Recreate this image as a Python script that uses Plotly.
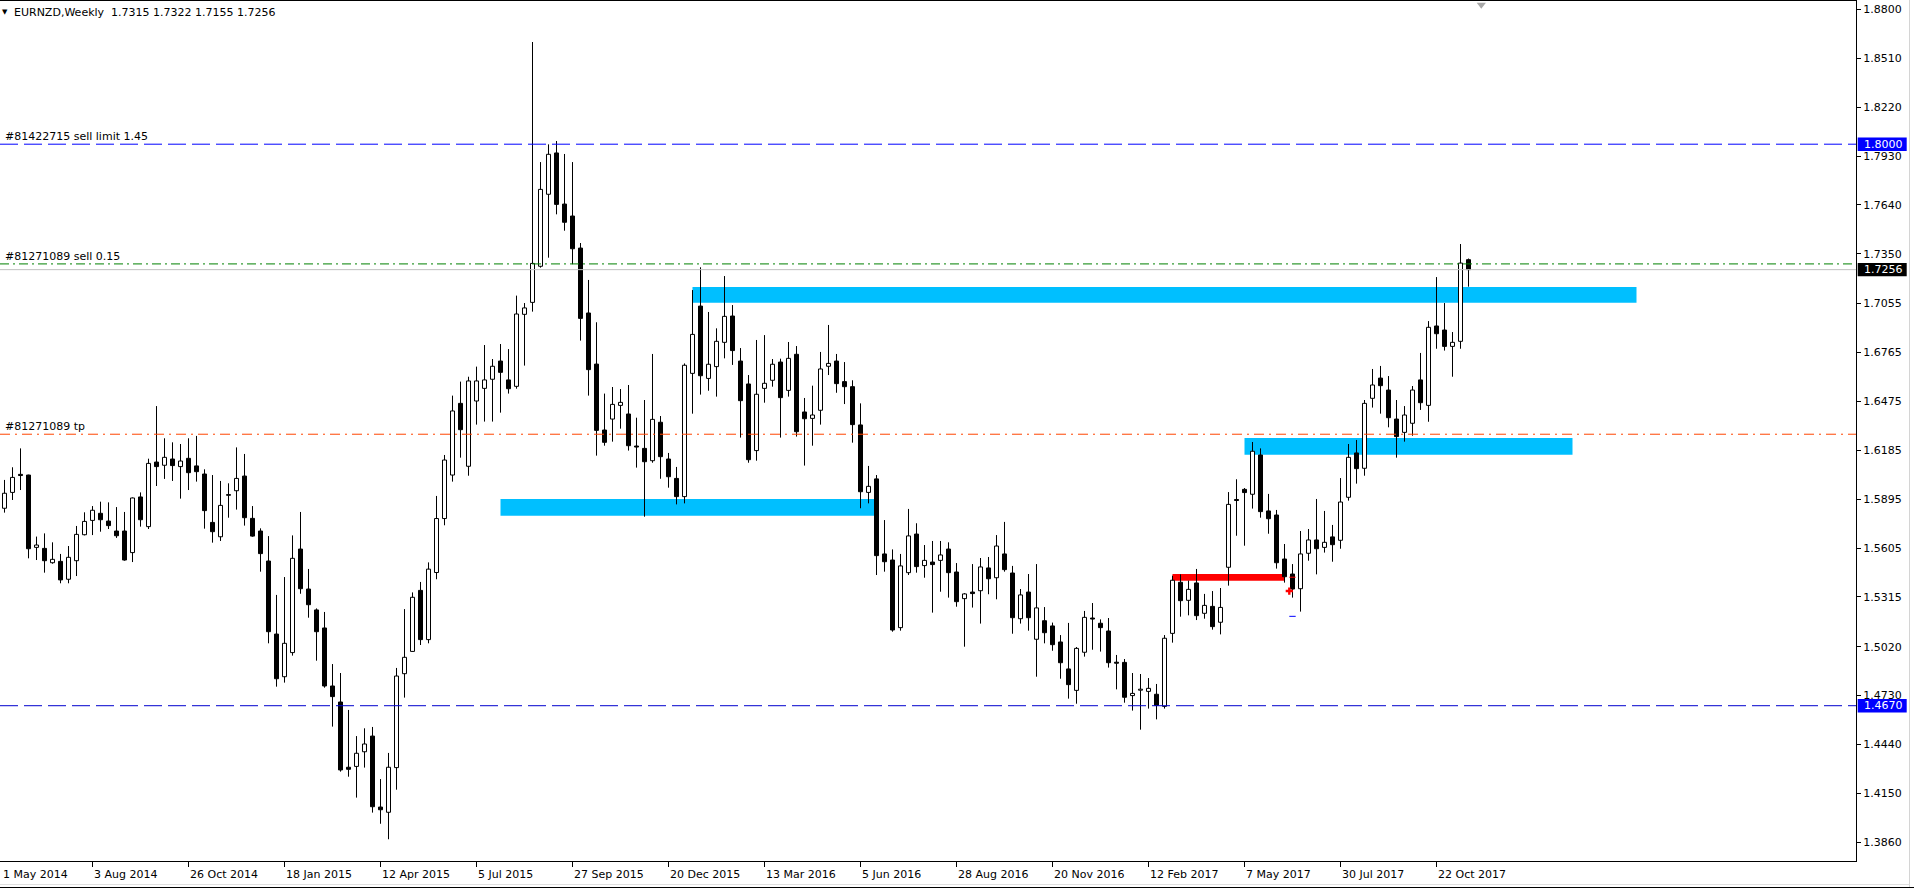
import plotly.graph_objects as go

# ---------------- data (weekly EURNZD bars, index 0 = first visible bar) ----------------
opens = [1.5841, 1.5935, 1.6042, 1.6038, 1.5609, 1.5603, 1.5518, 1.5526, 1.5420, 1.5530,
         1.5684, 1.5769, 1.5811, 1.5765, 1.5706, 1.5706, 1.5578, 1.5908, 1.5732, 1.6115,
         1.6096, 1.6133, 1.6088, 1.6137, 1.6092, 1.6044, 1.5757, 1.5672, 1.5922, 1.5945,
         1.6032, 1.5781, 1.5706, 1.5528, 1.5095, 1.4842, 1.4985, 1.5599, 1.5362, 1.5238,
         1.5131, 1.4787, 1.4692, 1.4305, 1.4310, 1.4397, 1.4490, 1.4069, 1.4038, 1.4303,
         1.4860, 1.4992, 1.5354, 1.5062, 1.5460, 1.5780, 1.6038, 1.6463, 1.6090, 1.6477,
         1.6552, 1.6606, 1.6714, 1.6602, 1.6564, 1.6991, 1.7062, 1.7276, 1.7703, 1.7948,
         1.7645, 1.7574, 1.7384, 1.6999, 1.6696, 1.6305, 1.6370, 1.6451, 1.6400, 1.6210,
         1.6196, 1.6123, 1.6351, 1.6133, 1.6018, 1.5910, 1.6641, 1.7040, 1.6611, 1.6681,
         1.6825, 1.6981, 1.6714, 1.6578, 1.6183, 1.6552, 1.6600, 1.6708, 1.6540, 1.6754,
         1.6412, 1.6374, 1.6422, 1.6683, 1.6714, 1.6592, 1.6562, 1.6335, 1.5935, 1.6015,
         1.5570, 1.5534, 1.5133, 1.5459, 1.5688, 1.5501, 1.5522, 1.5532, 1.5599, 1.5463,
         1.5305, 1.5344, 1.5352, 1.5487, 1.5429, 1.5570, 1.5457, 1.5186, 1.5344, 1.5064,
         1.5174, 1.5143, 1.5048, 1.4888, 1.4761, 1.4987, 1.5190, 1.5159, 1.5113, 1.4928,
         1.4927, 1.4730, 1.4762, 1.4755, 1.4738, 1.4666, 1.5099, 1.5402, 1.5295, 1.5398,
         1.5218, 1.5259, 1.5165, 1.5491, 1.5893, 1.5953, 1.5924, 1.6157, 1.5825, 1.5801,
         1.5540, 1.5451, 1.5364, 1.5574, 1.5653, 1.5609, 1.5671, 1.5651, 1.5906, 1.6169,
         1.6078, 1.6493, 1.6613, 1.6542, 1.6370, 1.6291, 1.6345, 1.6602, 1.6451, 1.6922,
         1.6898, 1.6801, 1.6831, 1.7315]
highs = [1.6009, 1.6084, 1.6196, 1.6040, 1.5673, 1.5692, 1.5639, 1.5570, 1.5617, 1.5736,
         1.5817, 1.5854, 1.5880, 1.5876, 1.5848, 1.5819, 1.5905, 1.5935, 1.6135, 1.6447,
         1.6256, 1.6232, 1.6222, 1.6256, 1.6270, 1.6072, 1.6038, 1.6003, 1.5989, 1.6202,
         1.6163, 1.5854, 1.5722, 1.5676, 1.5327, 1.5433, 1.5680, 1.5819, 1.5481, 1.5247,
         1.5226, 1.4917, 1.4864, 1.4645, 1.4490, 1.4536, 1.4544, 1.4235, 1.4390, 1.4894,
         1.5243, 1.5342, 1.5404, 1.5520, 1.5914, 1.6157, 1.6509, 1.6592, 1.6621, 1.6681,
         1.6809, 1.6726, 1.6815, 1.6785, 1.7102, 1.7058, 1.8606, 1.7894, 1.7999, 1.8019,
         1.7942, 1.7894, 1.7414, 1.7195, 1.6944, 1.6521, 1.6560, 1.6548, 1.6572, 1.6378,
         1.6483, 1.6756, 1.6388, 1.6169, 1.6086, 1.6700, 1.7135, 1.7270, 1.7005, 1.6908,
         1.7218, 1.7046, 1.6791, 1.6631, 1.6839, 1.6868, 1.6726, 1.6728, 1.6827, 1.6803,
         1.6495, 1.6568, 1.6768, 1.6928, 1.6756, 1.6708, 1.6600, 1.6463, 1.6092, 1.6038,
         1.5771, 1.5597, 1.5570, 1.5837, 1.5752, 1.5623, 1.5647, 1.5647, 1.5639, 1.5516,
         1.5338, 1.5510, 1.5546, 1.5552, 1.5682, 1.5760, 1.5499, 1.5362, 1.5451, 1.5510,
         1.5255, 1.5163, 1.5089, 1.5161, 1.5018, 1.5232, 1.5279, 1.5182, 1.5190, 1.4971,
         1.4947, 1.4864, 1.4858, 1.4834, 1.4799, 1.5089, 1.5441, 1.5449, 1.5412, 1.5481,
         1.5333, 1.5350, 1.5368, 1.5937, 1.6013, 1.5961, 1.6234, 1.6196, 1.5926, 1.5831,
         1.5629, 1.5510, 1.5706, 1.5718, 1.5896, 1.5825, 1.5742, 1.6020, 1.6222, 1.6246,
         1.6483, 1.6667, 1.6685, 1.6625, 1.6483, 1.6447, 1.6566, 1.6762, 1.6951, 1.7212,
         1.7058, 1.6886, 1.7408, 1.7322]
lows = [1.5815, 1.5890, 1.5949, 1.5544, 1.5534, 1.5459, 1.5512, 1.5396, 1.5396, 1.5439,
        1.5680, 1.5682, 1.5702, 1.5718, 1.5665, 1.5530, 1.5522, 1.5732, 1.5718, 1.5973,
        1.6015, 1.6003, 1.5898, 1.5949, 1.5999, 1.5720, 1.5637, 1.5647, 1.5785, 1.5833,
        1.5738, 1.5672, 1.5465, 1.5040, 1.4783, 1.4807, 1.4967, 1.5334, 1.5192, 1.4937,
        1.4777, 1.4546, 1.4279, 1.4249, 1.4125, 1.4303, 1.4036, 1.3970, 1.3878, 1.4172,
        1.4718, 1.4990, 1.5030, 1.5040, 1.5420, 1.5740, 1.5999, 1.6141, 1.6034, 1.6337,
        1.6355, 1.6355, 1.6408, 1.6521, 1.6550, 1.6687, 1.7007, 1.7268, 1.7327, 1.7584,
        1.7487, 1.7288, 1.6835, 1.6509, 1.6153, 1.6212, 1.6236, 1.6313, 1.6183, 1.6082,
        1.5791, 1.6111, 1.6016, 1.5963, 1.5864, 1.5870, 1.6402, 1.6515, 1.6538, 1.6503,
        1.6730, 1.6691, 1.6260, 1.6111, 1.6123, 1.6467, 1.6562, 1.6260, 1.6503, 1.6266,
        1.6094, 1.6212, 1.6337, 1.6631, 1.6526, 1.6459, 1.6230, 1.5841, 1.5870, 1.5445,
        1.5465, 1.5109, 1.5115, 1.5445, 1.5459, 1.5429, 1.5222, 1.5346, 1.5311, 1.5257,
        1.5020, 1.5252, 1.5157, 1.5331, 1.5301, 1.5465, 1.5097, 1.5157, 1.5115, 1.4842,
        1.5040, 1.4996, 1.4830, 1.4712, 1.4682, 1.4961, 1.5002, 1.4991, 1.4896, 1.4767,
        1.4688, 1.4641, 1.4528, 1.4653, 1.4589, 1.4653, 1.5044, 1.5198, 1.5206, 1.5178,
        1.5186, 1.5121, 1.5093, 1.5382, 1.5678, 1.5619, 1.5839, 1.5785, 1.5690, 1.5483,
        1.5400, 1.5311, 1.5228, 1.5530, 1.5449, 1.5578, 1.5524, 1.5601, 1.5886, 1.5987,
        1.6034, 1.6438, 1.6402, 1.6321, 1.6141, 1.6236, 1.6271, 1.6424, 1.6354, 1.6787,
        1.6776, 1.6621, 1.6787, 1.7155]
closes = [1.5930, 1.6024, 1.6035, 1.5601, 1.5623, 1.5530, 1.5538, 1.5416, 1.5550, 1.5686,
          1.5763, 1.5829, 1.5773, 1.5738, 1.5678, 1.5534, 1.5902, 1.5773, 1.6107, 1.6088,
          1.6143, 1.6094, 1.6121, 1.6052, 1.6058, 1.5827, 1.5702, 1.5858, 1.5918, 1.6018,
          1.5785, 1.5676, 1.5572, 1.5109, 1.4830, 1.5040, 1.5544, 1.5364, 1.5269, 1.5109,
          1.4787, 1.4724, 1.4289, 1.4293, 1.4388, 1.4443, 1.4071, 1.4053, 1.4305, 1.4846,
          1.4957, 1.5313, 1.5062, 1.5480, 1.5780, 1.6127, 1.6418, 1.6307, 1.6596, 1.6596,
          1.6602, 1.6683, 1.6647, 1.6550, 1.6993, 1.7029, 1.7293, 1.7732, 1.7940, 1.7643,
          1.7537, 1.7380, 1.6967, 1.6663, 1.6303, 1.6232, 1.6457, 1.6469, 1.6212, 1.6204,
          1.6117, 1.6368, 1.6147, 1.6028, 1.5910, 1.6689, 1.6872, 1.6627, 1.6695, 1.6831,
          1.6979, 1.6776, 1.6479, 1.6129, 1.6517, 1.6582, 1.6695, 1.6497, 1.6730, 1.6295,
          1.6372, 1.6394, 1.6667, 1.6700, 1.6580, 1.6562, 1.6337, 1.5939, 1.5971, 1.5560,
          1.5524, 1.5119, 1.5499, 1.5677, 1.5495, 1.5532, 1.5507, 1.5564, 1.5459, 1.5287,
          1.5333, 1.5335, 1.5493, 1.5423, 1.5617, 1.5477, 1.5192, 1.5327, 1.5192, 1.5250,
          1.5103, 1.5032, 1.4925, 1.4795, 1.5010, 1.5194, 1.5184, 1.5133, 1.4925, 1.4922,
          1.4720, 1.4743, 1.4768, 1.4773, 1.4672, 1.5070, 1.5414, 1.5293, 1.5360, 1.5204,
          1.5265, 1.5139, 1.5253, 1.5864, 1.5887, 1.5934, 1.6179, 1.5821, 1.5779, 1.5518,
          1.5435, 1.5362, 1.5570, 1.5653, 1.5601, 1.5639, 1.5625, 1.5878, 1.6143, 1.6076,
          1.6463, 1.6572, 1.6568, 1.6378, 1.6266, 1.6394, 1.6542, 1.6467, 1.6914, 1.6876,
          1.6801, 1.6825, 1.7295, 1.7256]

date_idx = [11, 23, 35, 47, 59, 71, 83, 95, 107, 119, 131, 143, 155, 167, 179]
date_text = ["3 Aug 2014", "26 Oct 2014", "18 Jan 2015", "12 Apr 2015", "5 Jul 2015",
             "27 Sep 2015", "20 Dec 2015", "13 Mar 2016", "5 Jun 2016", "28 Aug 2016",
             "20 Nov 2016", "12 Feb 2017", "7 May 2017", "30 Jul 2017", "22 Oct 2017"]
first_date_text = "1 May 2014"

price_ticks = [1.8800, 1.8510, 1.8220, 1.7930, 1.7640, 1.7350, 1.7055, 1.6765, 1.6475,
               1.6185, 1.5895, 1.5605, 1.5315, 1.5020, 1.4730, 1.4440, 1.4150, 1.3860]

# zones: (start bar, end bar, low, high, colour)
zones = [(86, 204, 1.7060, 1.7153, "#00BFFF"),
         (155, 196, 1.6159, 1.6258, "#00BFFF"),
         (62, 109, 1.5797, 1.5896, "#00BFFF"),
         (146, 160, 1.5411, 1.5451, "#FF0000")]

# horizontal levels: (price, colour, dash, label)
levels = [(1.8000, "#0000FF", "18px,6px", "#81422715 sell limit 1.45"),
          (1.7290, "#008000", "9px,4px,2px,4px", "#81271089 sell 0.15"),
          (1.7256, "#C0C0C0", "solid", ""),
          (1.6280, "#FF4500", "10px,5px,2px,5px", "#81271089 tp"),
          (1.4670, "#0000CD", "18px,6px", "")]
price_boxes = [(1.8000, "#0000FF"), (1.7256, "#000000"), (1.4670, "#0000FF")]

title_text = "EURNZD,Weekly\u00a0\u00a01.7315 1.7322 1.7155 1.7256"

# ---------------- geometry ----------------
W, H = 1914, 888
ML, MR, MT, MB = 0, 58, 1, 27
PW, PH = W - ML - MR, H - MT - MB
px_per_bar = 8.0
x0_px = 4.5
x_range = [(0 - x0_px) / px_per_bar, (PW - x0_px) / px_per_bar]
y_range = [1.37491, 1.88492]
FONT = "DejaVu Sans"

N = len(opens)
idx = list(range(N))

fig = go.Figure()

# wicks (upper & lower parts so that they do not cross the bodies)
wx, wy = [], []
for i in idx:
    top = max(opens[i], closes[i])
    bot = min(opens[i], closes[i])
    if highs[i] > top:
        wx += [i, i, None]
        wy += [top, highs[i], None]
    if lows[i] < bot:
        wx += [i, i, None]
        wy += [bot, lows[i], None]
fig.add_trace(go.Scatter(x=wx, y=wy, mode="lines", line=dict(color="black", width=1),
                         hoverinfo="skip", showlegend=False))

# bodies
for bull, fill in [(True, "white"), (False, "black")]:
    xs, base, hgt = [], [], []
    for i in idx:
        if (closes[i] >= opens[i]) == bull:
            xs.append(i)
            base.append(min(opens[i], closes[i]))
            hgt.append(max(abs(closes[i] - opens[i]), 0.0004))
    fig.add_trace(go.Bar(x=xs, y=hgt, base=base, width=0.5,
                         marker=dict(color=fill, line=dict(color="black", width=1)),
                         showlegend=False, hoverinfo="skip"))

# trade markers
fig.add_trace(go.Scatter(x=[160.6], y=[1.5350], mode="markers",
                         marker=dict(symbol="cross", size=6, color="#FF0000"),
                         showlegend=False, hoverinfo="skip"))
fig.add_trace(go.Scatter(x=[160.6, 161.4], y=[1.5200, 1.5200],
                         mode="lines", line=dict(color="#0000FF", width=1),
                         showlegend=False, hoverinfo="skip"))
fig.add_trace(go.Scatter(x=[160.6, 161.4], y=[1.5432, 1.5432], mode="lines",
                         line=dict(color="#FF0000", width=1), showlegend=False, hoverinfo="skip"))
# chart-shift marker
fig.add_trace(go.Scatter(x=[184.6], y=[1.8827], mode="markers", cliponaxis=False,
                         marker=dict(symbol="triangle-down", size=8, color="#A8A8A8"),
                         showlegend=False, hoverinfo="skip"))

shapes = []
for s, e, lo, hi, col in zones:
    shapes.append(dict(type="rect", xref="x", yref="y", x0=s, x1=e, y0=lo, y1=hi,
                       fillcolor=col, line=dict(width=0), layer="below"))
for p, col, dash, lab in levels:
    shapes.append(dict(type="line", xref="paper", yref="y", x0=0, x1=1, y0=p, y1=p,
                       line=dict(color=col, width=1, dash=dash), layer="above"))

annotations = []
for p, col, dash, lab in levels:
    if lab:
        annotations.append(dict(text=lab, xref="paper", yref="y", x=0, y=p, xanchor="left",
                                yanchor="bottom", xshift=3, yshift=-1, showarrow=False,
                                font=dict(family=FONT, size=11, color="black")))

# price boxes on the right scale
for p, col in price_boxes:
    half = (y_range[1] - y_range[0]) * 6.7 / PH
    shapes.append(dict(type="rect", xref="paper", yref="y", x0=1 + 1.7 / PW, x1=1 + 50.7 / PW,
                       y0=p - half, y1=p + half, fillcolor=col, line=dict(width=0), layer="above"))
    annotations.append(dict(text=f"{p:.4f}", xref="paper", yref="y", x=1, y=p, xanchor="left",
                            yanchor="middle", xshift=6, showarrow=False,
                            font=dict(family=FONT, size=11, color="white")))

# date labels
for i, t in zip(date_idx, date_text):
    annotations.append(dict(text=t, xref="x", yref="paper", x=i, y=0, xanchor="left",
                            yanchor="middle", xshift=-1, yshift=-13, showarrow=False,
                            font=dict(family=FONT, size=11, color="black")))
annotations.append(dict(text=first_date_text, xref="paper", yref="paper", x=0, y=0,
                        xanchor="left", yanchor="middle", xshift=1, yshift=-13, showarrow=False,
                        font=dict(family=FONT, size=11, color="black")))

# title
annotations.append(dict(text="\u25bc", xref="paper", yref="paper", x=0, y=1, xanchor="left",
                        yanchor="middle", xshift=0, yshift=-11, showarrow=False,
                        font=dict(family=FONT, size=7, color="black")))
annotations.append(dict(text=title_text, xref="paper", yref="paper", x=0, y=1, xanchor="left",
                        yanchor="middle", xshift=12, yshift=-11, showarrow=False,
                        font=dict(family=FONT, size=11, color="black")))

# window border bits
def py(Y):
    return (MT + PH - Y) / PH

shapes.append(dict(type="line", xref="paper", yref="paper", x0=1909.5 / PW, x1=1909.5 / PW,
                   y0=py(0), y1=py(887), line=dict(color="#D4D4D4", width=1), layer="above"))
shapes.append(dict(type="line", xref="paper", yref="paper", x0=0, x1=1909.5 / PW,
                   y0=py(884.5), y1=py(884.5), line=dict(color="#E0E0E0", width=1), layer="above"))
shapes.append(dict(type="line", xref="paper", yref="paper", x0=0, x1=W / PW,
                   y0=py(887.5), y1=py(887.5), line=dict(color="#000000", width=1), layer="above"))

fig.update_layout(
    width=W, height=H,
    margin=dict(l=ML, r=MR, t=MT, b=MB, pad=0),
    paper_bgcolor="white", plot_bgcolor="white",
    barmode="overlay", showlegend=False,
    shapes=shapes, annotations=annotations,
    font=dict(family=FONT, size=11, color="black"),
    xaxis=dict(range=x_range, showgrid=False, zeroline=False, showline=True,
               linecolor="black", linewidth=1, mirror=True, ticks="outside", ticklen=5,
               tickcolor="black", tickvals=date_idx, showticklabels=False, fixedrange=True),
    yaxis=dict(range=y_range, side="right", showgrid=False, zeroline=False, showline=True,
               linecolor="black", linewidth=1, mirror=True, ticks="outside", ticklen=4,
               tickcolor="black", tickvals=price_ticks,
               ticktext=[f"{v:.4f}" for v in price_ticks],
               tickfont=dict(family=FONT, size=11, color="black"), fixedrange=True),
)

fig.write_html("out.html")
